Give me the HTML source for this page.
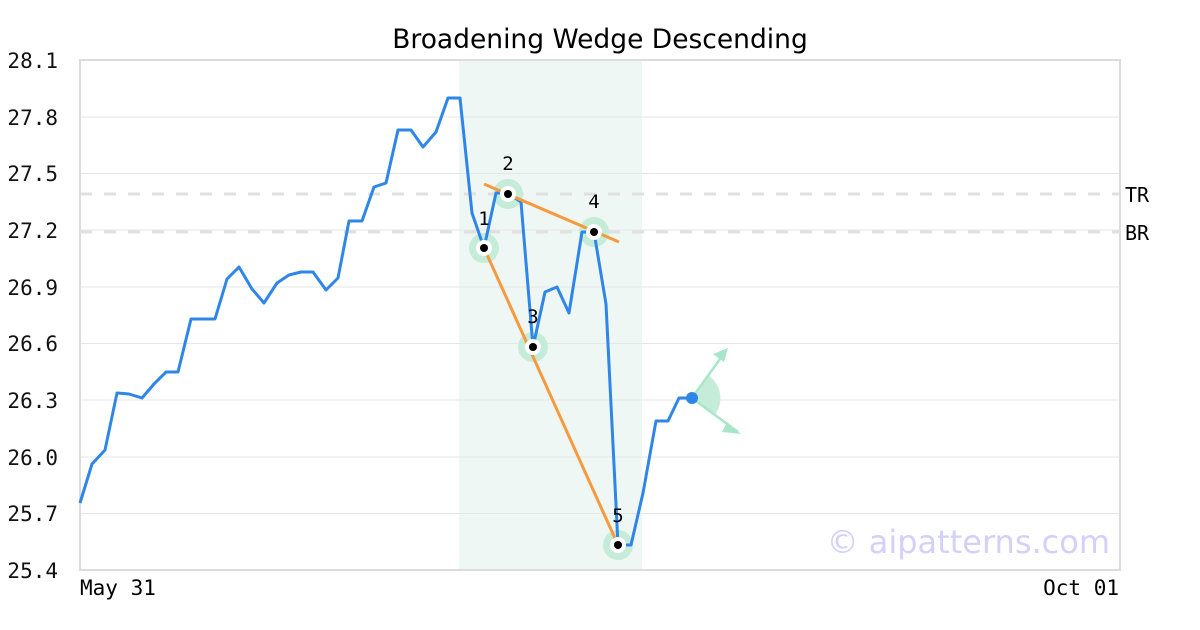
<!DOCTYPE html>
<html><head><meta charset="utf-8"><style>body{margin:0;background:#fff}svg{display:block}text{font-family:"DejaVu Sans Mono","Liberation Mono",monospace}</style></head><body>
<svg width="1200" height="630" viewBox="0 0 1200 630" xmlns="http://www.w3.org/2000/svg">
<rect width="1200" height="630" fill="#fff"/>
<rect x="459" y="60" width="183" height="510" fill="#eef7f3"/>
<g stroke="#e6e6e6" stroke-width="1">
<line x1="80" y1="117" x2="1120" y2="117"/><line x1="80" y1="173.5" x2="1120" y2="173.5"/><line x1="80" y1="230" x2="1120" y2="230"/><line x1="80" y1="287" x2="1120" y2="287"/><line x1="80" y1="343.5" x2="1120" y2="343.5"/><line x1="80" y1="400" x2="1120" y2="400"/><line x1="80" y1="457" x2="1120" y2="457"/><line x1="80" y1="513.5" x2="1120" y2="513.5"/>
</g>
<g stroke="#e0e0e0" stroke-width="3" stroke-dasharray="12,12"><line x1="80" y1="194" x2="1120" y2="194"/><line x1="80" y1="232" x2="1120" y2="232"/></g>
<rect x="80" y="60" width="1040" height="510" fill="none" stroke="#dcdcdc" stroke-width="2"/>
<text x="600" y="48" text-anchor="middle" font-size="26.5" style="font-family:'DejaVu Sans',sans-serif">Broadening Wedge Descending</text>
<g font-size="21" fill="#111" text-anchor="end">
<text x="58" y="68">28.1</text><text x="58" y="125">27.8</text><text x="58" y="181">27.5</text><text x="58" y="238">27.2</text><text x="58" y="295">26.9</text><text x="58" y="351">26.6</text><text x="58" y="408">26.3</text><text x="58" y="465">26.0</text><text x="58" y="521">25.7</text><text x="58" y="578">25.4</text>
</g>
<text x="80" y="595" font-size="21">May 31</text><text x="1119" y="595" font-size="21" text-anchor="end">Oct 01</text>
<text x="1125" y="202" font-size="20">TR</text><text x="1125" y="240" font-size="20">BR</text>
<text x="1110" y="553" font-size="32" fill="#d4d0fb" text-anchor="end" style="font-family:'DejaVu Sans',sans-serif">© aipatterns.com</text>
<g fill="#c5ecd9"><circle cx="484" cy="248" r="15"/><circle cx="508" cy="194" r="15"/><circle cx="533" cy="347" r="15"/><circle cx="594" cy="232" r="15"/><circle cx="618" cy="545" r="15"/></g>
<polyline fill="none" stroke="#2e86e8" stroke-width="3" stroke-linejoin="round" points="80,503 92,464 105,450 117,393 129,394 142,398 154,384 166,372 178,372 191,319 215,319 227,279 239,267 252,289 264,303 277,283 289,275 301,272 313,272 326,290 338,278 349,221 362,221 374,187 386,183 398,130 411,130 423,147 436,132 448,98 460,98 472,213 484,248 496,193 508,193 521,202 533,347 545,292 557,287 569,313 582,232 594,232 606,304 618,545 631,545 643,493 656,421 668,421 679,398 692,398"/>
<g stroke="#f79a3e" stroke-width="3"><line x1="484" y1="184" x2="619" y2="242"/><line x1="484" y1="248" x2="618" y2="545"/></g>
<g fill="#fff"><circle cx="484" cy="248" r="8"/><circle cx="508" cy="194" r="8"/><circle cx="533" cy="347" r="8"/><circle cx="594" cy="232" r="8"/><circle cx="618" cy="545" r="8"/></g>
<g fill="#000"><circle cx="484" cy="248" r="4"/><circle cx="508" cy="194" r="4"/><circle cx="533" cy="347" r="4"/><circle cx="594" cy="232" r="4"/><circle cx="618" cy="545" r="4"/></g>
<g font-size="19" text-anchor="middle" fill="#000"><text x="484" y="225">1</text><text x="508" y="170">2</text><text x="533" y="323">3</text><text x="594" y="208">4</text><text x="618" y="522">5</text></g>
<path d="M692,398 L708,375 A28,28 0 0 1 714,416 Z" fill="#c5ecd9"/>
<g stroke="#a8e6c8" stroke-width="2.5"><line x1="692" y1="398" x2="725" y2="352"/><line x1="692" y1="398" x2="738" y2="432"/></g>
<polygon points="728,348 713,354 724,362" fill="#a8e6c8"/><polygon points="741,434 727,422 722,432" fill="#a8e6c8"/>
<circle cx="692" cy="398" r="6" fill="#2e86e8"/>
</svg>
</body></html>
